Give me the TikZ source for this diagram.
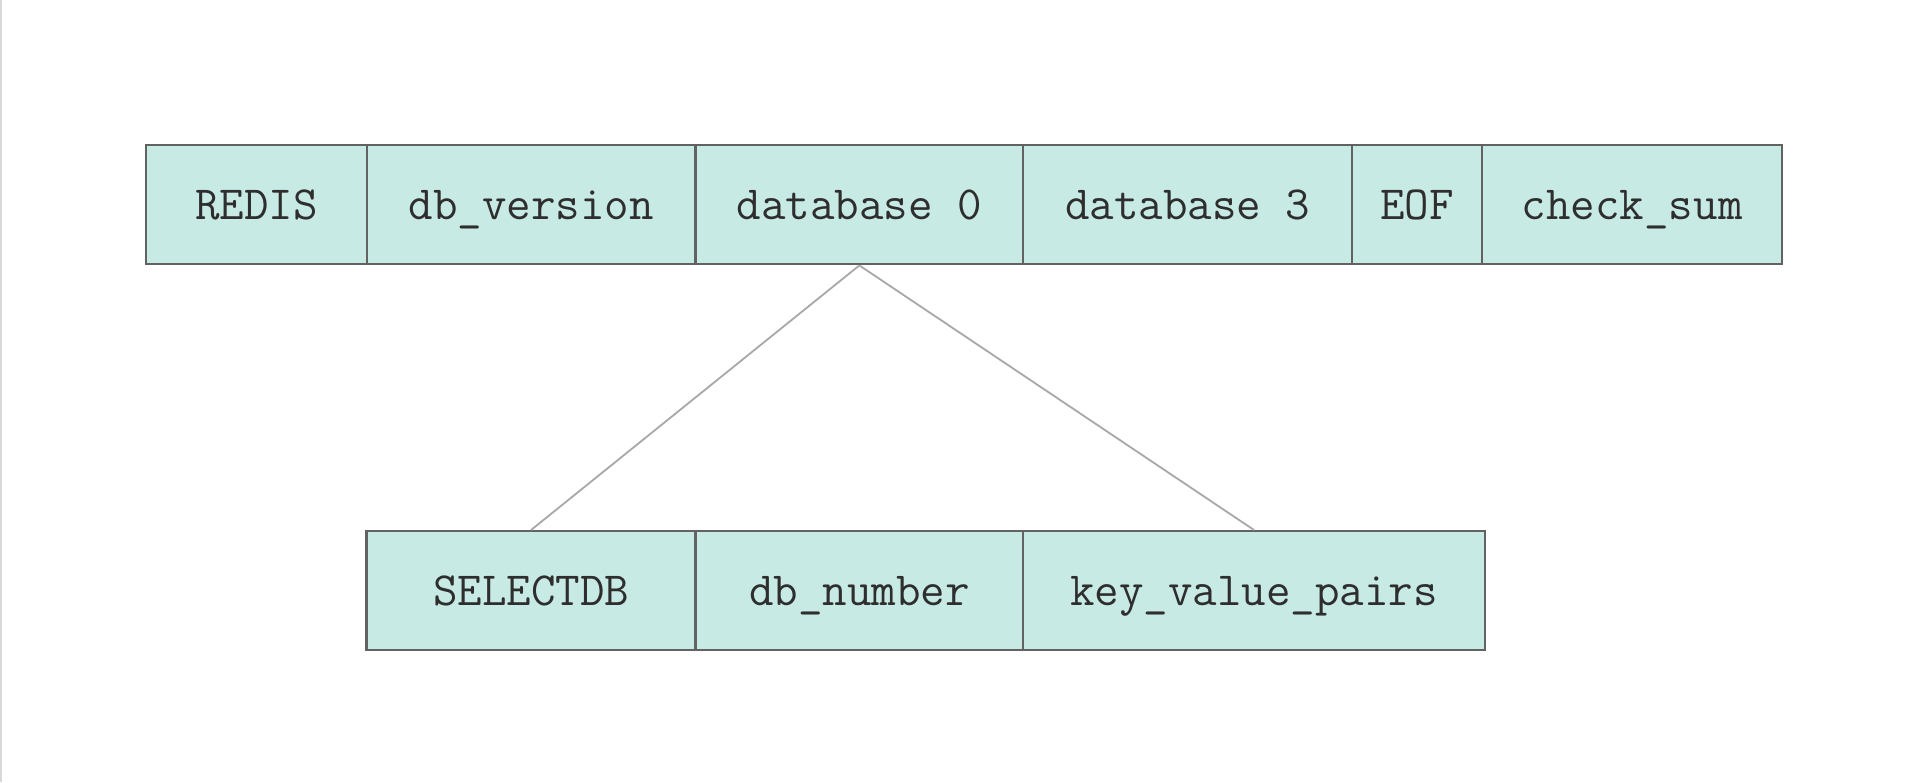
\documentclass[tikz,border=0pt]{standalone}
\usepackage{fontspec}
\definecolor{cellfill}{HTML}{C8EAE4}
\definecolor{cellline}{HTML}{626262}
\definecolor{linkline}{HTML}{A8A8A8}
\definecolor{edgeline}{HTML}{D8D8D8}
\begin{document}
\begin{tikzpicture}[x=1pt,y=-1pt,
  cell/.style={draw=cellline, line width=2.4pt, fill=cellfill, rectangle, inner sep=0pt,
    minimum height=119pt, text height=37pt, text depth=8pt, anchor=north west, text=black!82,
    font=\ttfamily\fontsize{47.6}{56}\selectfont},
  link/.style={draw=linkline, line width=1.8pt}]
\useasboundingbox (0,0) rectangle (1910,782);
\fill[white] (0,0) rectangle (1910,782);
\draw[edgeline, line width=2pt] (1,0) -- (1,782);
% top row
\node[cell, minimum width=221pt] (redis) at (145,144) {REDIS};
\node[cell, minimum width=328.3pt] (dbver) at (366,144) {db\_version};
\node[cell, minimum width=327.7pt] (db0) at (694.3,144) {database 0};
\node[cell, minimum width=328.9pt] (db3) at (1022,144) {database 3};
\node[cell, minimum width=130.1pt] (eof) at (1350.9,144) {EOF};
\node[cell, minimum width=300pt] (csum) at (1481,144) {check\_sum};
% bottom row
\node[cell, minimum width=328.9pt] (sel) at (365.4,530) {SELECTDB};
\node[cell, minimum width=327.7pt] (dbnum) at (694.3,530) {db\_number};
\node[cell, minimum width=461.6pt] (kv) at (1022,530) {key\_value\_pairs};
% connectors
\draw[link] (db0.south) -- (sel.north);
\draw[link] (db0.south) -- (kv.north);
\end{tikzpicture}
\end{document}
